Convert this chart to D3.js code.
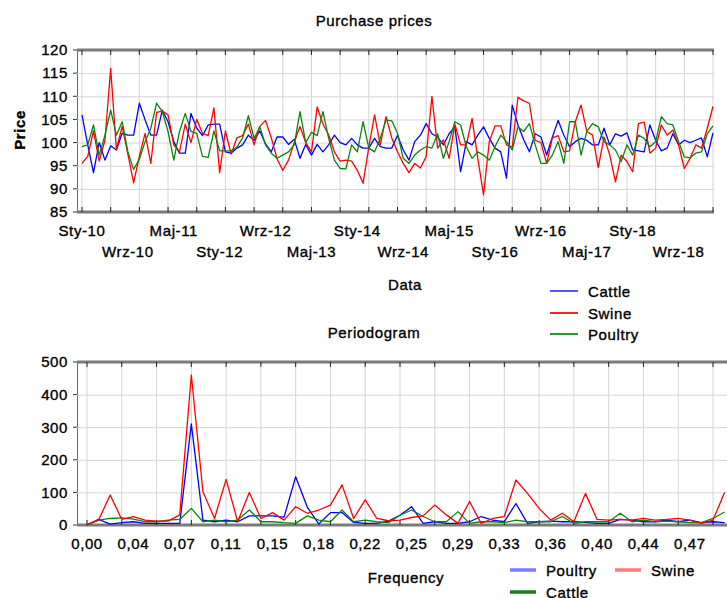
<!DOCTYPE html>
<html>
<head>
<meta charset="utf-8">
<script src="https://cdn.jsdelivr.net/npm/d3@7"></script>
<style>
  body { margin: 0; background: #fff; }
  svg text { font-family: "Liberation Sans", Arial, sans-serif; fill: #000; stroke: #000; stroke-width: 0.35px; }
</style>
</head>
<body>
<div id="chart"></div>
<script>
// ---- data ----
const monthTickLabels = ['Sty-10', 'Wrz-10', 'Maj-11', 'Sty-12', 'Wrz-12', 'Maj-13', 'Sty-14',
  'Wrz-14', 'Maj-15', 'Sty-16', 'Wrz-16', 'Maj-17', 'Sty-18', 'Wrz-18'];

const cattlePrices = [106, 99.5, 93.5, 100, 96.2, 99.3, 98.4, 102, 101.6, 101.6,
  108.5, 104.9, 101.6, 101.6, 107, 104.5, 100.2, 97.7, 97.7, 106.3,
  103.1, 101.5, 103.8, 104, 104, 98, 97.7, 98.8, 99.5, 101.6,
  100.5, 102.5, 99.7, 98, 101.2, 101.2, 99.6, 100.7, 96.6, 99.6,
  97.3, 99.6, 98, 99.5, 101.6, 100, 99.5, 100.9, 99.5, 98.8,
  98.8, 100.9, 99.1, 98.8, 98.8, 101.6, 98.4, 96.2, 100.2, 101.6,
  104.1, 101.9, 101.2, 99.5, 101.9, 103.4, 93.7, 100.2, 99.5, 101.6,
  103.4, 100.9, 98.8, 98, 92.3, 108.1, 103.8, 100.6, 98, 101.9,
  101.2, 97.3, 101.2, 104.8, 101.6, 99.1, 100.2, 100.9, 100.5, 99.5,
  99.5, 103.1, 99.5, 101.9, 101.4, 102.1, 98.4, 98.2, 98, 103.8,
  100.5, 98.2, 98.8, 101.9, 99.5, 100.5, 100, 100.5, 101, 96.9, 102.1];

const swinePrices = [95.5, 97, 102.5, 96, 100.5, 116, 98.5, 103.5, 97.5, 91.3,
  97, 102, 95.5, 106.5, 106.8, 106, 99.5, 98, 104, 100,
  105, 102, 101.5, 107.5, 93.5, 102.5, 97.5, 101, 101.5, 104,
  99.5, 103.5, 104.8, 101, 96.5, 94, 96.2, 100, 103.5, 100,
  98, 107.7, 104, 101.7, 98, 96, 96.2, 96, 94, 91.2,
  99, 106, 99.5, 105.6, 101, 98, 95.5, 93.5, 95.5, 94.5,
  97, 110, 98.8, 100.6, 96.6, 104, 99.5, 99.5, 105.2, 96.6,
  88.7, 100.2, 103.6, 103.6, 99.5, 99, 109.8, 109, 108.5, 100.5,
  100, 95.5, 101, 101.5, 98, 98.2, 104.5, 108.1, 102.4, 101.6,
  94.6, 101.2, 97.3, 91.5, 97.3, 95.9, 93.7, 104.1, 104.4, 97.7,
  98.8, 103.8, 101.6, 102.7, 99.5, 94.4, 96.6, 99.5, 98.8, 103.1, 107.8];

const poultryPrices = [99.1, 99.5, 103.8, 97.3, 101.6, 107, 101.6, 104.5, 98, 94.2,
  96.4, 100.2, 103.1, 108.5, 106.7, 102.4, 96.2, 102.4, 106.3, 102.4,
  102, 97, 96.8, 102.5, 98.2, 98.2, 98.2, 99, 101, 105.8,
  100.9, 103.4, 99.5, 97.7, 96.6, 97.3, 98, 99.5, 106.7, 100,
  102.2, 101.5, 106.7, 100.9, 96.2, 94.4, 94.3, 99.5, 98, 104.5,
  98.8, 98, 100.9, 104.9, 104.7, 102, 96.6, 95.5, 97.3, 98.4,
  99.1, 98.8, 101.9, 96.6, 100.2, 104.5, 103.8, 99.1, 96.6, 98,
  97.3, 96.2, 99.1, 101.6, 100.2, 98.4, 103.4, 102.4, 104.1, 99.5,
  95.5, 95.5, 97.3, 100.2, 95.5, 104.5, 104.5, 97.3, 102.4, 104.1,
  103.4, 100.2, 99.5, 98.4, 95.9, 99.5, 97.3, 101.6, 100.9, 99.1,
  100.2, 105.6, 104.1, 103.8, 100.2, 96.9, 96.7, 97.7, 98, 101.9, 103.6];

const freqTickLabels = ['0,00', '0,04', '0,07', '0,11', '0,15', '0,18', '0,22',
  '0,25', '0,29', '0,33', '0,36', '0,40', '0,44', '0,47'];

// periodogram ordinates, one per frequency step k/110
const periodogramPoultry = [0, 17, 3, 7, 10, 5, 5, 5, 5, 310,
  15, 10, 15, 10, 28, 28, 28, 24, 148, 55,
  3, 38, 38, 8, 5, 5, 12, 30, 56, 5,
  10, 5, 5, 10, 26, 15, 10, 66, 5, 10,
  12, 10, 10, 8, 5, 5, 17, 15, 10, 10,
  15, 10, 15, 7, 10, 7];

const periodogramSwine = [2, 15, 92, 17, 26, 15, 12, 12, 31, 460,
  102, 20, 140, 10, 100, 20, 38, 15, 56, 36,
  46, 61, 123, 20, 77, 20, 13, 15, 23, 28,
  61, 31, 5, 72, 5, 20, 26, 138, 97, 51,
  15, 36, 10, 97, 17, 15, 17, 15, 20, 15,
  17, 20, 15, 5, 15, 100];

const periodogramCattle = [0, 15, 20, 22, 18, 10, 10, 15, 17, 51,
  10, 15, 10, 15, 46, 10, 10, 7, 5, 28,
  15, 10, 46, 10, 15, 10, 7, 30, 46, 26,
  10, 10, 41, 5, 10, 10, 7, 15, 10, 10,
  10, 26, 5, 10, 10, 10, 36, 10, 15, 10,
  12, 10, 7, 7, 20, 40];

class LinePanel {

  constructor(_config, _series) {
    this.config = _config;
    this.series = _series;
    this.initVis();
  }

  initVis() {
    let vis = this;
    const c = vis.config;

    vis.xScale = d3.scaleLinear().domain(c.xDomain).range(c.xRange);
    vis.yScale = d3.scaleLinear().domain(c.yDomain).range([c.bottom, c.top]);

    vis.g = c.svg.append('g');

    // vertical grid lines
    vis.g.append('g')
      .selectAll('line')
      .data(c.gridSteps)
      .join('line')
        .attr('x1', d => vis.xScale(d))
        .attr('x2', d => vis.xScale(d))
        .attr('y1', c.top)
        .attr('y2', c.bottom)
        .attr('stroke', '#d4d4d4')
        .attr('stroke-width', 1);

    // y axis with full width grid
    const yAxis = d3.axisLeft(vis.yScale)
      .tickValues(c.yTicks)
      .tickSize(-(c.plotRight - c.left))
      .tickPadding(9)
      .tickFormat(d3.format('d'));

    vis.g.append('g')
      .attr('transform', `translate(${c.left},0)`)
      .call(yAxis)
      .call(g => g.select('.domain').attr('stroke', '#666'))
      .call(g => g.selectAll('.tick line').attr('stroke', '#d4d4d4'))
      .call(g => g.selectAll('.tick text')
        .attr('font-size', 15).attr('letter-spacing', 0.6).attr('fill', '#000'));

    // small dark ticks on the left
    vis.g.append('g')
      .selectAll('line')
      .data(c.yTicks)
      .join('line')
        .attr('x1', c.left - 4)
        .attr('x2', c.left)
        .attr('y1', d => vis.yScale(d))
        .attr('y2', d => vis.yScale(d))
        .attr('stroke', '#333');

    // heavy frame lines top and bottom
    [c.top, c.bottom].forEach(y => {
      vis.g.append('line')
        .attr('x1', c.left).attr('x2', c.plotRight)
        .attr('y1', y).attr('y2', y)
        .attr('stroke', '#7a7a7a')
        .attr('stroke-width', 3);
    });

    // dark tick marks on the frame at each grid step
    vis.g.append('g')
      .selectAll('path')
      .data(c.gridSteps)
      .join('path')
        .attr('d', d => {
          const x = vis.xScale(d);
          return `M${x},${c.top}v5M${x},${c.bottom}v-5`;
        })
        .attr('stroke', '#222')
        .attr('stroke-width', 1);

    // x tick labels
    vis.g.append('g')
      .selectAll('text')
      .data(c.xLabels)
      .join('text')
        .attr('x', (d, i) => vis.xScale(i * c.labelStep))
        .attr('y', (d, i) => c.labelRows ? (i % 2 === 0 ? c.labelY : c.labelY + 21) : c.labelY)
        .attr('text-anchor', 'middle')
        .attr('font-size', 15)
        .attr('letter-spacing', 0.6)
        .text(d => d);

    vis.renderVis();
  }

  renderVis() {
    let vis = this;
    const c = vis.config;

    vis.g.append('defs').append('clipPath')
        .attr('id', c.id + '-clip')
      .append('rect')
        .attr('x', c.left)
        .attr('y', c.top - 2)
        .attr('width', c.plotRight - c.left)
        .attr('height', c.bottom - c.top + 4);

    const line = d3.line()
      .x((d, i) => vis.xScale(i))
      .y(d => vis.yScale(d));

    vis.g.append('g')
      .attr('clip-path', `url(#${c.id}-clip)`)
      .selectAll('path')
      .data(vis.series)
      .join('path')
        .attr('d', d => line(d.values))
        .attr('fill', 'none')
        .attr('stroke', d => d.color)
        .attr('stroke-width', 1.3)
        .attr('stroke-linejoin', 'round');
  }
}

const svg = d3.select('#chart').append('svg')
  .attr('width', 727)
  .attr('height', 598);

// ---- top panel: purchase prices ----
new LinePanel({
  svg: svg,
  id: 'prices',
  top: 50, bottom: 212, left: 77, plotRight: 714,
  xDomain: [0, 110], xRange: [82, 713],
  yDomain: [85, 120],
  yTicks: d3.range(85, 121, 5),
  gridSteps: d3.range(0, 111, 5),
  xLabels: monthTickLabels,
  labelStep: 8,
  labelRows: true,
  labelY: 236
}, [
  {name: 'Cattle', color: '#0000ff', values: cattlePrices},
  {name: 'Swine', color: '#ff0000', values: swinePrices},
  {name: 'Poultry', color: '#0a850a', values: poultryPrices}
]);

// ---- bottom panel: periodogram ----
new LinePanel({
  svg: svg,
  id: 'periodogram',
  top: 362, bottom: 525, left: 77, plotRight: 740,
  xDomain: [0, 54], xRange: [87, 713],
  yDomain: [0, 500],
  yTicks: d3.range(0, 501, 100),
  gridSteps: d3.range(0, 58, 3),
  xLabels: freqTickLabels,
  labelStep: 4,
  labelRows: false,
  labelY: 549
}, [
  {name: 'Poultry', color: '#0000ff', values: periodogramPoultry},
  {name: 'Cattle', color: '#0a850a', values: periodogramCattle},
  {name: 'Swine', color: '#ff0000', values: periodogramSwine}
]);

// ---- titles and axis names ----
const texts = [
  {t: 'Purchase prices', x: 374, y: 26},
  {t: 'Data', x: 405, y: 290},
  {t: 'Periodogram', x: 374, y: 338},
  {t: 'Frequency', x: 406, y: 583}
];
svg.selectAll('text.label')
  .data(texts)
  .join('text')
    .attr('class', 'label')
    .attr('x', d => d.x)
    .attr('y', d => d.y)
    .attr('text-anchor', 'middle')
    .attr('font-size', 15)
    .attr('letter-spacing', 0.6)
    .text(d => d.t);

svg.append('text')
  .attr('transform', 'translate(25,130) rotate(-90)')
  .attr('text-anchor', 'middle')
  .attr('font-size', 15)
  .attr('letter-spacing', 0.6)
  .attr('font-weight', 'bold')
  .text('Price');

// ---- legends ----
const topLegend = [
  {name: 'Cattle', color: '#5555ff', x: 550, y: 291},
  {name: 'Swine', color: '#ff2222', x: 550, y: 313},
  {name: 'Poultry', color: '#2a9a2a', x: 550, y: 334}
];
const bottomLegend = [
  {name: 'Poultry', color: '#7a7aff', x: 510, y: 570},
  {name: 'Swine', color: '#ff7a7a', x: 615, y: 570},
  {name: 'Cattle', color: '#1a7f1a', x: 510, y: 592}
];

function drawLegend(items, lineW, lineH) {
  const g = svg.append('g');
  const item = g.selectAll('g')
    .data(items)
    .join('g')
      .attr('transform', d => `translate(${d.x},${d.y})`);
  item.append('line')
    .attr('x1', 0).attr('x2', lineW)
    .attr('stroke', d => d.color)
    .attr('stroke-width', lineH);
  item.append('text')
    .attr('x', lineW + 10)
    .attr('y', 6)
    .attr('font-size', 15)
    .attr('letter-spacing', 0.6)
    .text(d => d.name);
}
drawLegend(topLegend, 28, 2);
drawLegend(bottomLegend, 26, 3.5);
</script>
</body>
</html>
